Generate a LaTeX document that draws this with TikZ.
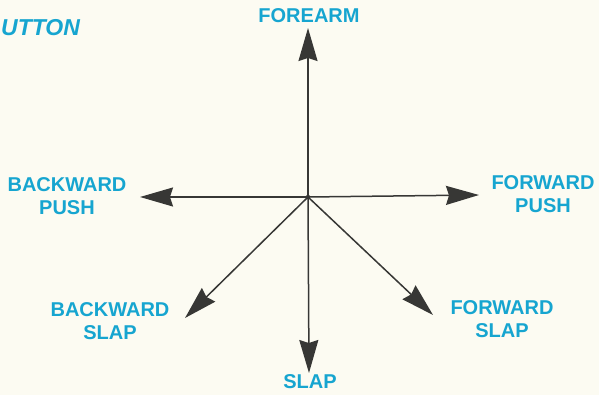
\documentclass[tikz,border=0pt]{standalone}
\usepackage{fontspec}
\setmainfont{Liberation Sans}
\usepackage{tikz}
\usepackage{xcolor}
\usetikzlibrary{arrows.meta,positioning}
\definecolor{PaperColor}{RGB}{252,251,242}
\definecolor{LabelColor}{RGB}{22,165,208}
\definecolor{InkColor}{RGB}{55,55,53}

\begin{document}
\begin{tikzpicture}[x=1pt, y=-1pt,
    >={Stealth[length=33pt, width=19pt, inset=3pt]},
    move/.style={->, line width=1.5pt, draw=InkColor, fill=InkColor},
    movelabel/.style={text=LabelColor, inner sep=0pt, align=center, font=\fontsize{20}{23}\selectfont\bfseries}]
  \fill[PaperColor] (0,0) rectangle (599,395);
  \useasboundingbox (0,0) rectangle (599,395);
  % title at the left edge
  \node[text=LabelColor, inner sep=0pt, anchor=west, font=\fontsize{23}{26}\selectfont\bfseries\itshape] (title) at (1,27.5) {UTTON};
  % centre and arrow ends
  \coordinate (c) at (308,197);
  \coordinate (up) at (308,28);
  \coordinate (left) at (140,197);
  \coordinate (right) at (479,195);
  \coordinate (down) at (309,373);
  \coordinate (dl) at (185,318);
  \coordinate (dr) at (433,315);
  \node[movelabel] (forearm) at (309,15.5) {FOREARM};
  \node[movelabel] (bpush) at (67,196.5) {BACKWARD\\PUSH};
  \node[movelabel] (fpush) at (543,194) {FORWARD\\PUSH};
  \node[movelabel] (bslap) at (110,321) {BACKWARD\\SLAP};
  \node[movelabel] (fslap) at (502,319) {FORWARD\\SLAP};
  \node[movelabel] (slap) at (310,381.5) {SLAP};
  \draw[move] (c) -- (up);
  \draw[move] (c) -- (left);
  \draw[move] (c) -- (right);
  \draw[move] (c) -- (down);
  \draw[move] (c) -- (dl);
  \draw[move] (c) -- (dr);
  \fill[InkColor] (c) circle (2.2);
\end{tikzpicture}
\end{document}
